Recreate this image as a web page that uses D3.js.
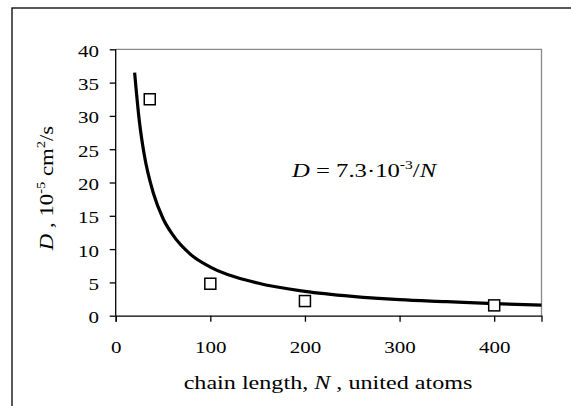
<!DOCTYPE html>
<html lang="en">
<head>
<meta charset="UTF-8">
<title>Diffusion vs chain length</title>
<style>
  body { margin: 0; background: #fff; }
  svg text { font-family: "Liberation Serif", "Times New Roman", serif; fill: #000; }
</style>
</head>
<body>
<div id="chart"></div>
<script src="https://d3js.org/d3.v7.min.js"></script>
<script>
// measured points (chain length N, D in 1e-5 cm^2/s)
const pointN = [36, 100, 200, 400];
const pointD = [32.5, 4.8, 2.2, 1.55];

// fitted curve D = 7.3e-3/N
const curveN = [20, 25, 30, 40, 50, 60, 80, 100, 150, 200, 250, 300, 350, 400, 450];
const curveD = [36.5, 29.2, 24.3, 18.3, 14.6, 12.2, 9.1, 7.3, 4.9, 3.65, 2.9, 2.4, 2.1, 1.8, 1.6];

const xTicks = [0, 100, 200, 300, 400];
const yTicks = [0, 5, 10, 15, 20, 25, 30, 35, 40];

const width = 571, height = 406;
const plot = { left: 115.7, right: 541.5, top: 49.3, bottom: 315.7 };
const serif = "Liberation Serif, Times New Roman, serif";

const svg = d3.select("#chart").append("svg")
  .attr("width", width)
  .attr("height", height);

// outer frame (cut off at right and bottom)
svg.append("rect")
  .attr("x", 12).attr("y", 8)
  .attr("width", 580).attr("height", 420)
  .attr("fill", "none").attr("stroke", "#000").attr("stroke-width", 1.3);

const x = d3.scaleLinear().domain([0, 450]).range([plot.left, plot.right]);
const y = d3.scaleLinear().domain([0, 40]).range([plot.bottom, plot.top]);

// plot area frame (top and right in gray)
svg.append("path")
  .attr("d", `M${plot.left},${plot.top}H${plot.right}V${plot.bottom}`)
  .attr("fill", "none").attr("stroke", "#888").attr("stroke-width", 1.3);

const xAxis = svg.append("g")
  .attr("transform", `translate(0,${plot.bottom})`)
  .call(d3.axisBottom(x).tickValues(xTicks).tickSize(6).tickPadding(19));
const yAxis = svg.append("g")
  .attr("transform", `translate(${plot.left},0)`)
  .call(d3.axisLeft(y).tickValues(yTicks).tickSize(6).tickPadding(8));

[xAxis, yAxis].forEach(g => {
  g.attr("font-family", serif).attr("font-size", 17.5);
  g.select(".domain").attr("stroke", "#000").attr("stroke-width", 1.3);
  g.selectAll(".tick line").attr("stroke", "#000").attr("stroke-width", 1.3);
  g.selectAll(".tick text")
    .style("font-family", serif)
    .style("font-size", "17.5px")
    .attr("transform", "scale(1.2,1)");
});
yAxis.select(".domain").attr("d", `M0,${plot.bottom}V${plot.top}`);
yAxis.selectAll(".tick text").attr("dy", "0.4em");

// fitted curve
const curve = curveN.map((n, i) => ({ n, d: curveD[i] }));
svg.append("path")
  .datum(curve)
  .attr("d", d3.line().x(d => x(d.n)).y(d => y(d.d)).curve(d3.curveMonotoneX))
  .attr("fill", "none").attr("stroke", "#000").attr("stroke-width", 3.2);

// data markers
const pts = pointN.map((n, i) => ({ n, d: pointD[i] }));
svg.selectAll("rect.pt").data(pts).join("rect")
  .attr("class", "pt")
  .attr("x", d => x(d.n) - 5.5).attr("y", d => y(d.d) - 5.5)
  .attr("width", 11).attr("height", 11)
  .attr("fill", "#fff").attr("stroke", "#000").attr("stroke-width", 1.5);

// equation
const eq = svg.append("text")
  .attr("transform", "translate(292,177) scale(1.3,1)")
  .style("font-size", "19px");
eq.append("tspan").style("font-style", "italic").text("D");
eq.append("tspan").text(" = 7.3·10");
eq.append("tspan").attr("dy", -8).style("font-size", "12px").text("-3");
eq.append("tspan").attr("dy", 8).text("/");
eq.append("tspan").style("font-style", "italic").text("N");

// x-axis title
const xt = svg.append("text")
  .attr("transform", "translate(328,389) scale(1.27,1)")
  .attr("text-anchor", "middle")
  .style("font-size", "19px");
xt.append("tspan").text("chain length, ");
xt.append("tspan").style("font-style", "italic").text("N");
xt.append("tspan").text(" , united atoms");

// y-axis title
const yt = svg.append("text")
  .attr("transform", "translate(53,188) rotate(-90) scale(1.2,1)")
  .attr("text-anchor", "middle")
  .style("font-size", "19px");
yt.append("tspan").style("font-style", "italic").text("D");
yt.append("tspan").text(" , 10");
yt.append("tspan").attr("dy", -8).style("font-size", "12px").text("-5");
yt.append("tspan").attr("dy", 8).text(" cm");
yt.append("tspan").attr("dy", -8).style("font-size", "12px").text("2");
yt.append("tspan").attr("dy", 8).text("/s");
</script>
</body>
</html>
